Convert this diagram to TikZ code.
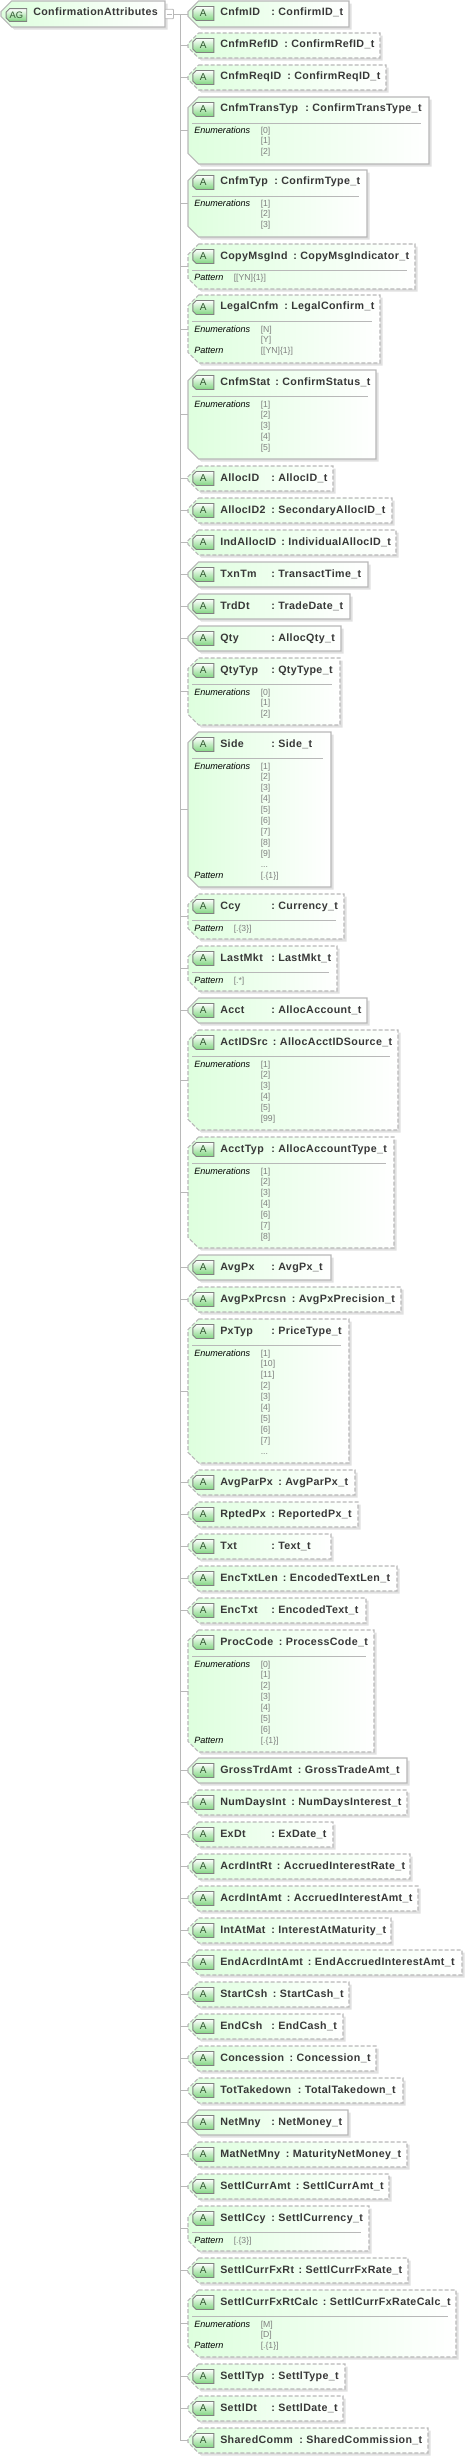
\documentclass[tikz,border=0pt]{standalone}
\usepackage{fontspec}
\setmainfont{Liberation Sans}
\newfontfamily\titlefont[LetterSpace=3.5]{Liberation Sans Bold}
\usetikzlibrary{positioning,calc,shadows}

\definecolor{boxgreen}{RGB}{222,255,222}
\definecolor{midgreen}{RGB}{232,255,232}
\definecolor{icongreen}{RGB}{128,214,128}
\definecolor{icontext}{RGB}{50,90,50}
\definecolor{edgegray}{RGB}{184,184,184}

\newcommand{\octbox}[3]{
  \path[#3] ($(#1.north west)+(#2,0)$) -- (#1.north east) -- (#1.south east)
    -- ($(#1.south west)+(#2,0)$) -- ($(#1.south west)+(0,#2)$)
    -- ($(#1.north west)-(0,#2)$) -- cycle;
}
\newcommand{\attrrow}[7][solidbox]{
  \node[slot, minimum width={(#4-188)*0.75pt}, minimum height={(#3-#2)*0.75pt}]
    (#2row) at ({(188+#4)/2},{(#2+#3)/2}) {};
  \octbox{#2row}{8pt}{attrbox, #1}
  \node[slot, minimum width=15.75pt, minimum height=10.5pt] (#2slot) at (203.3,#2+12.5) {};
  \octbox{#2slot}{2.6pt}{iconbox}
  \node[icontxt] (#2icon) at (#2slot) {A};
  \node[titletext] (#2name) at (220,#2+15) {#6};
  \node[titletext] (#2type) at (#5,#2+15) {:\hspace{2.6pt}#7};
  \draw[conn] (fork |- #2row.west) -- (#2row.west);
  \coordinate (lastrow) at (#2row.west);
}
\newcommand{\attrsep}[2]{
  \draw[sepline] (192,#1+26.5) -- (#2-8,#1+26.5);
}
\newcommand{\enumvals}[2]{
  \node[keytext] (#1enum) at (194,#1+37) {Enumerations};
  \foreach \val [count=\i] in {#2} {
    \pgfmathsetmacro\ry{#1+36+11*(\i-1)+(\i==1)}
    \node[valtext] (#1val\i) at (260.5,\ry) {\val};
  }
}
\newcommand{\pattvals}[4]{
  \node[keytext] (#1patt) at (194,#1+#2) {Pattern};
  \node[valtext] (#1pval) at (#3,#1+#2) {#4};
}
\newcommand{\morevals}{...}

\begin{document}
\begin{tikzpicture}[
  x=0.75pt, y=-0.75pt,
  conn/.style     = {draw=edgegray, line width=0.6pt},
  sepline/.style  = {draw=edgegray, line width=0.7pt},
  slot/.style     = {inner sep=0pt, outer sep=0pt},
  attrbox/.style  = {draw=edgegray, line width=0.8pt,
                     left color=boxgreen, middle color=midgreen, right color=white,
                     drop shadow={shadow xshift=2pt, shadow yshift=-2pt, fill=black!12, opacity=1}},
  solidbox/.style = {},
  dashbox/.style  = {dash pattern=on 3pt off 1.5pt},
  iconbox/.style  = {draw=black!50, line width=0.7pt, top color=white, bottom color=icongreen},
  icontxt/.style  = {inner sep=0pt, text=icontext, font=\fontsize{7.5pt}{9pt}\selectfont},
  titletext/.style= {anchor=base west, inner sep=0pt, text=black!78,
                     font=\titlefont\fontsize{8pt}{10pt}\selectfont},
  keytext/.style  = {anchor=base west, inner sep=0pt, text=black,
                     font=\itshape\fontsize{6.8pt}{8pt}\selectfont},
  valtext/.style  = {anchor=base west, inner sep=0pt, text=black!50,
                     font=\fontsize{6.5pt}{8pt}\selectfont}
]
\useasboundingbox (0,0) rectangle (466,2458);

\coordinate (fork) at (180.5,14);
\node[slot, minimum width=123pt, minimum height=19.5pt] (group) at (83,14) {};
\octbox{group}{8pt}{attrbox}
\node[slot, minimum width=15.5pt, minimum height=9.5pt] (groupslot) at (16.4,15) {};
\octbox{groupslot}{2.6pt}{iconbox}
\node[icontxt, font=\fontsize{7pt}{9pt}\selectfont] (groupicon) at (groupslot) {AG};
\node[titletext] (groupname) at (33,16) {ConfirmationAttributes};
\node[draw=edgegray, fill=white, inner sep=0pt, minimum width=6.3pt, minimum height=7pt,
      rounded corners=0.5pt, line width=0.6pt] (collapse) at (169.3,14) {};
\draw[conn] ([xshift=-2pt]collapse.center) -- ([xshift=2pt]collapse.center);
\draw[conn] (collapse.east) -- (fork);

\attrrow{1}{27}{349}{271}{CnfmID}{ConfirmID\_t}
\attrrow[dashbox]{33}{58}{380}{284}{CnfmRefID}{ConfirmRefID\_t}
\attrrow[dashbox]{65}{90}{386}{287}{CnfmReqID}{ConfirmReqID\_t}
\attrrow{97}{164}{429}{305}{CnfmTransTyp}{ConfirmTransType\_t}
\attrsep{97}{429}
\enumvals{97}{[0],[1],[2]}
\attrrow{170}{237}{367}{274}{CnfmTyp}{ConfirmType\_t}
\attrsep{170}{367}
\enumvals{170}{[1],[2],[3]}
\attrrow[dashbox]{244}{289}{415}{293}{CopyMsgInd}{CopyMsgIndicator\_t}
\attrsep{244}{415}
\pattvals{244}{37}{233.5}{[[YN]\{1\}]}
\attrrow[dashbox]{295}{363}{380}{284}{LegalCnfm}{LegalConfirm\_t}
\attrsep{295}{380}
\enumvals{295}{[N],[Y]}
\pattvals{295}{58}{260.5}{[[YN]\{1\}]}
\attrrow{370}{459}{376}{275}{CnfmStat}{ConfirmStatus\_t}
\attrsep{370}{376}
\enumvals{370}{[1],[2],[3],[4],[5]}
\attrrow[dashbox]{466}{491}{333}{271}{AllocID}{AllocID\_t}
\attrrow[dashbox]{498}{523}{392}{271}{AllocID2}{SecondaryAllocID\_t}
\attrrow[dashbox]{530}{555}{396}{281}{IndAllocID}{IndividualAllocID\_t}
\attrrow{562}{587}{368}{271}{TxnTm}{TransactTime\_t}
\attrrow{594}{619}{350}{271}{TrdDt}{TradeDate\_t}
\attrrow{626}{651}{341}{271}{Qty}{AllocQty\_t}
\attrrow[dashbox]{658}{725}{340}{271}{QtyTyp}{QtyType\_t}
\attrsep{658}{340}
\enumvals{658}{[0],[1],[2]}
\attrrow{732}{887}{331}{271}{Side}{Side\_t}
\attrsep{732}{331}
\enumvals{732}{[1],[2],[3],[4],[5],[6],[7],[8],[9],\morevals}
\pattvals{732}{146}{260.5}{[.\{1\}]}
\attrrow[dashbox]{894}{939}{344}{271}{Ccy}{Currency\_t}
\attrsep{894}{344}
\pattvals{894}{37}{233.5}{[.\{3\}]}
\attrrow[dashbox]{946}{991}{337}{271}{LastMkt}{LastMkt\_t}
\attrsep{946}{337}
\pattvals{946}{37}{233.5}{[.*]}
\attrrow{998}{1023}{367}{271}{Acct}{AllocAccount\_t}
\attrrow[dashbox]{1030}{1130}{398}{272.7}{ActIDSrc}{AllocAcctIDSource\_t}
\attrsep{1030}{398}
\enumvals{1030}{[1],[2],[3],[4],[5],[99]}
\attrrow[dashbox]{1137}{1248}{394}{271}{AcctTyp}{AllocAccountType\_t}
\attrsep{1137}{394}
\enumvals{1137}{[1],[2],[3],[4],[6],[7],[8]}
\attrrow{1255}{1280}{331}{271}{AvgPx}{AvgPx\_t}
\attrrow[dashbox]{1287}{1312}{401}{291.7}{AvgPxPrcsn}{AvgPxPrecision\_t}
\attrrow[dashbox]{1319}{1463}{349}{271}{PxTyp}{PriceType\_t}
\attrsep{1319}{349}
\enumvals{1319}{[1],[10],[11],[2],[3],[4],[5],[6],[7],\morevals}
\attrrow[dashbox]{1470}{1495}{355}{278}{AvgParPx}{AvgParPx\_t}
\attrrow[dashbox]{1502}{1527}{358}{271}{RptedPx}{ReportedPx\_t}
\attrrow[dashbox]{1534}{1559}{331}{271}{Txt}{Text\_t}
\attrrow[dashbox]{1566}{1591}{397}{282.7}{EncTxtLen}{EncodedTextLen\_t}
\attrrow[dashbox]{1598}{1623}{366}{271}{EncTxt}{EncodedText\_t}
\attrrow[dashbox]{1630}{1752}{374}{278.5}{ProcCode}{ProcessCode\_t}
\attrsep{1630}{374}
\enumvals{1630}{[0],[1],[2],[3],[4],[5],[6]}
\pattvals{1630}{113}{260.5}{[.\{1\}]}
\attrrow{1758}{1783}{407}{297.7}{GrossTrdAmt}{GrossTradeAmt\_t}
\attrrow[dashbox]{1790}{1815}{407}{291}{NumDaysInt}{NumDaysInterest\_t}
\attrrow[dashbox]{1822}{1847}{333}{271}{ExDt}{ExDate\_t}
\attrrow[dashbox]{1854}{1879}{410}{276.7}{AcrdIntRt}{AccruedInterestRate\_t}
\attrrow[dashbox]{1886}{1911}{418}{286.7}{AcrdIntAmt}{AccruedInterestAmt\_t}
\attrrow[dashbox]{1918}{1943}{391}{271}{IntAtMat}{InterestAtMaturity\_t}
\attrrow[dashbox]{1950}{1975}{462}{307.7}{EndAcrdIntAmt}{EndAccruedInterestAmt\_t}
\attrrow[dashbox]{1982}{2007}{349}{272.7}{StartCsh}{StartCash\_t}
\attrrow[dashbox]{2014}{2039}{343}{271}{EndCsh}{EndCash\_t}
\attrrow[dashbox]{2046}{2071}{376}{289.3}{Concession}{Concession\_t}
\attrrow[dashbox]{2078}{2103}{403}{297.7}{TotTakedown}{TotalTakedown\_t}
\attrrow{2110}{2135}{348}{271}{NetMny}{NetMoney\_t}
\attrrow[dashbox]{2142}{2167}{407}{285.7}{MatNetMny}{MaturityNetMoney\_t}
\attrrow[dashbox]{2174}{2199}{389}{295.7}{SettlCurrAmt}{SettlCurrAmt\_t}
\attrrow[dashbox]{2206}{2251}{369}{271}{SettlCcy}{SettlCurrency\_t}
\attrsep{2206}{369}
\pattvals{2206}{37}{233.5}{[.\{3\}]}
\attrrow[dashbox]{2258}{2283}{408}{298.3}{SettlCurrFxRt}{SettlCurrFxRate\_t}
\attrrow[dashbox]{2290}{2357}{456}{322.7}{SettlCurrFxRtCalc}{SettlCurrFxRateCalc\_t}
\attrsep{2290}{456}
\enumvals{2290}{[M],[D]}
\pattvals{2290}{58}{260.5}{[.\{1\}]}
\attrrow[dashbox]{2364}{2389}{345}{271}{SettlTyp}{SettlType\_t}
\attrrow[dashbox]{2396}{2421}{343}{271}{SettlDt}{SettlDate\_t}
\attrrow[dashbox]{2428}{2453}{428}{299}{SharedComm}{SharedCommission\_t}

\draw[conn] (fork) -- (fork |- lastrow);
\end{tikzpicture}
\end{document}
